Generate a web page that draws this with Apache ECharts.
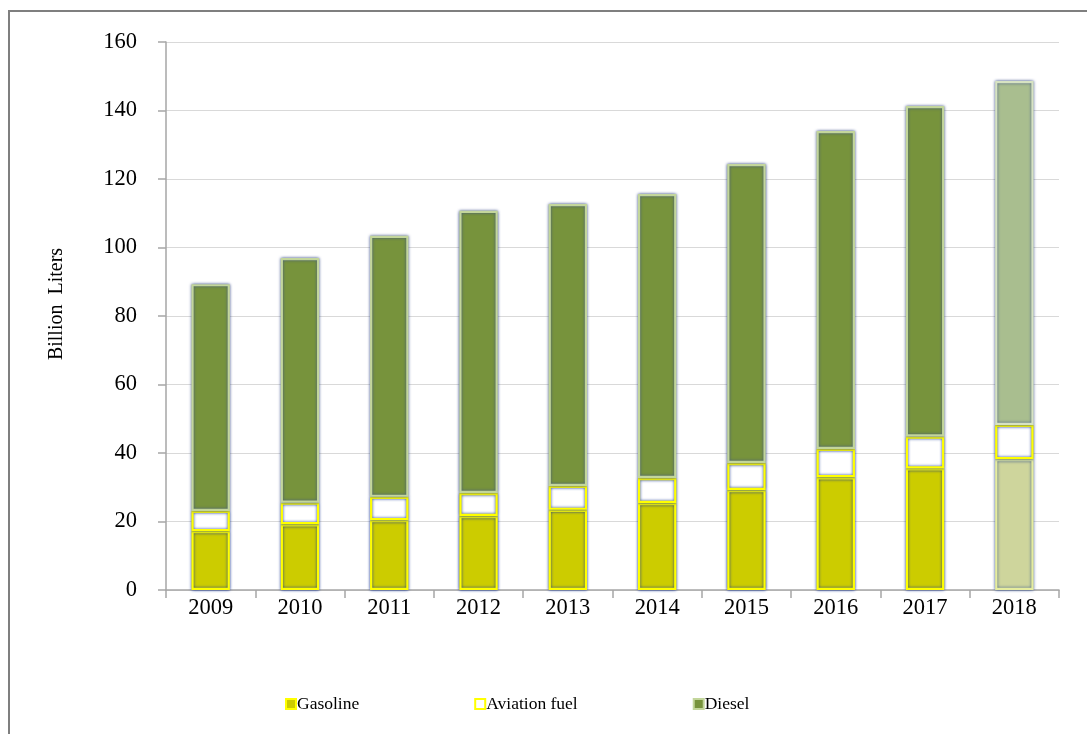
<!DOCTYPE html>
<html>
<head>
<meta charset="utf-8">
<script src="https://cdn.jsdelivr.net/npm/echarts@6/dist/echarts.min.js"></script>
<style>
  html, body { margin: 0; padding: 0; background: #ffffff; }
  #chart { width: 1087px; height: 734px; }
</style>
</head>
<body>
<div id="chart"></div>
<script>
const categories = ['2009', '2010', '2011', '2012', '2013', '2014', '2015', '2016', '2017', '2018'];
const gasoline = [17.2, 19.2, 20.4, 21.6, 23.4, 25.4, 29.2, 32.9, 35.5, 38.2];
const aviationFuel = [5.9, 6.3, 6.8, 6.7, 7.0, 7.3, 7.9, 8.3, 9.3, 10.0];
const diesel = [66.2, 71.4, 76.2, 82.4, 82.3, 82.9, 87.3, 92.8, 96.5, 100.4];
const yTicks = { min: 0, max: 160, interval: 20 };
const yAxisTitle = 'Billion  Liters';
const projectedIndex = 9; // last year drawn in lighter shades

const FONT = '"Liberation Serif", "Times New Roman", serif';

function buildData(values, lightStyle) {
  return values.map((v, i) => i === projectedIndex ? { value: v, itemStyle: lightStyle } : v);
}

const chart = echarts.init(document.getElementById('chart'), null, { renderer: 'canvas' });

chart.setOption({
  backgroundColor: '#ffffff',
  animation: false,
  textStyle: { fontFamily: FONT, color: '#000' },
  graphic: [
    {
      type: 'rect',
      shape: { x: 9, y: 11, width: 1200, height: 900 },
      style: { fill: 'none', stroke: '#7f7f7f', lineWidth: 2 },
      silent: true, z: -10
    },
    {
      type: 'text',
      x: 57, y: 304,
      rotation: Math.PI / 2,
      style: {
        text: yAxisTitle,
        fontFamily: FONT, fontSize: 20, fill: '#000',
        align: 'center', verticalAlign: 'middle'
      },
      silent: true
    }
  ],
  grid: { left: 166, right: 28, top: 42, bottom: 144, containLabel: false },
  legend: {
    left: 280, top: 690,
    itemGap: 115,
    itemWidth: 10, itemHeight: 10,
    icon: 'rect',
    textStyle: { fontFamily: FONT, fontSize: 17.5, color: '#000', padding: [0, 0, 0, -4] },
    data: ['Gasoline', 'Aviation fuel', 'Diesel']
  },
  xAxis: {
    type: 'category',
    data: categories,
    axisLine: { lineStyle: { color: '#a6a6a6', width: 1.5 } },
    axisTick: { show: true, length: 8, lineStyle: { color: '#a6a6a6', width: 1.5 } },
    axisLabel: { fontFamily: FONT, fontSize: 22.5, color: '#000', margin: 7 },
    splitLine: { show: false }
  },
  yAxis: {
    type: 'value',
    min: yTicks.min, max: yTicks.max, interval: yTicks.interval,
    axisLine: { show: true, lineStyle: { color: '#a6a6a6', width: 1.5 } },
    axisTick: { show: true, length: 8, lineStyle: { color: '#a6a6a6', width: 1.5 } },
    axisLabel: { fontFamily: FONT, fontSize: 22.5, color: '#000', margin: 29 },
    splitLine: { lineStyle: { color: '#d9d9d9', width: 1.2 } }
  },
  series: [
    {
      name: 'Gasoline', type: 'bar', stack: 'total', barWidth: '43%',
      itemStyle: { color: '#cccc00', borderColor: '#ffff00', borderWidth: 2.2, shadowBlur: 3, shadowColor: 'rgba(25,55,150,1)' },
      data: buildData(gasoline, { color: '#ced59c', borderColor: '#e6ed9e', shadowColor: 'rgba(40,70,140,0.9)' })
    },
    {
      name: 'Aviation fuel', type: 'bar', stack: 'total',
      itemStyle: { color: '#ffffff', borderColor: '#ffff00', borderWidth: 2.2, shadowBlur: 3, shadowColor: 'rgba(25,55,150,1)' },
      data: aviationFuel
    },
    {
      name: 'Diesel', type: 'bar', stack: 'total',
      itemStyle: { color: '#77933c', borderColor: '#c3d69b', borderWidth: 2.2, shadowBlur: 3, shadowColor: 'rgba(60,80,140,0.95)' },
      data: buildData(diesel, { color: '#a9be8f', borderColor: '#d7e3c2', shadowColor: 'rgba(60,80,140,0.95)' })
    }
  ]
});
</script>
</body>
</html>
